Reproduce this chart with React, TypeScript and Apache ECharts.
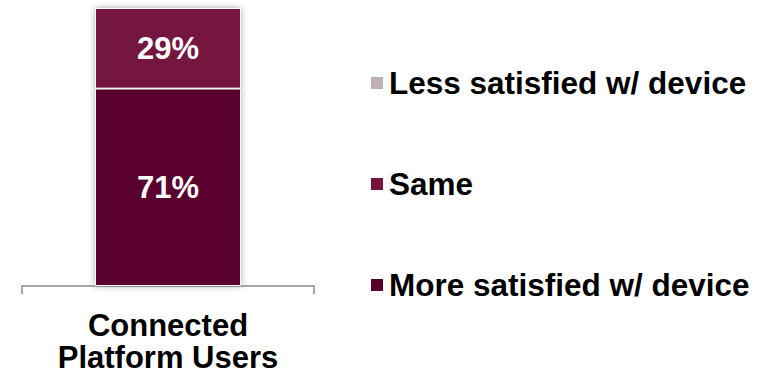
import React, { useEffect, useRef } from "react";
import * as echarts from "echarts";

const categories = ["Connected\nPlatform Users"];
const seriesNames = ["More satisfied w/ device", "Same", "Less satisfied w/ device"];
const moreValues = [71];
const sameValues = [29];
const lessValues = [0];
const colors = ["#5A002E", "#74123F", "#BDB0B5"];
const legendOrder = ["Less satisfied w/ device", "Same", "More satisfied w/ device"];

const FONT = "'Liberation Sans', Arial, sans-serif";

export default function App() {
  const ref = useRef<HTMLDivElement>(null);
  useEffect(() => {
    if (!ref.current) return;
    const chart = echarts.init(ref.current, undefined, { renderer: "svg" });
    const mk = (name: string, data: number[], color: string) => ({
      name,
      type: "bar",
      stack: "total",
      data,
      barWidth: "50%",
      itemStyle: {
        color,
        borderColor: "#ffffff",
        borderWidth: 1,
        shadowBlur: 6,
        shadowColor: "rgba(0,0,0,0.35)",
      },
      label: {
        show: true,
        position: "inside",
        color: "#ffffff",
        fontFamily: FONT,
        fontWeight: "bold",
        fontSize: 31,
        formatter: (p: any) => (p.value > 0 ? p.value + "%" : ""),
      },
    });
    chart.setOption({
      animation: false,
      grid: { left: 22, right: 451, top: 8, bottom: 89 },
      xAxis: {
        type: "category",
        data: categories,
        axisLine: { lineStyle: { color: "#A6A6A6", width: 2 } },
        axisTick: { show: true, length: 8, lineStyle: { color: "#A6A6A6", width: 2 } },
        axisLabel: {
          color: "#000000",
          fontFamily: FONT,
          fontWeight: "bold",
          fontSize: 31,
          lineHeight: 32,
          margin: 23,
        },
      },
      yAxis: { type: "value", min: 0, max: 100, show: false },
      legend: {
        orient: "vertical",
        left: 364,
        top: 62,
        itemWidth: 14,
        itemHeight: 14,
        itemGap: 69,
        icon: "rect",
        data: legendOrder,
        textStyle: {
          color: "#000000",
          fontFamily: FONT,
          fontWeight: "bold",
          fontSize: 31.5,
          padding: [0, 0, 0, 0],
        },
      },
      series: [
        mk(seriesNames[0], moreValues, colors[0]),
        mk(seriesNames[1], sameValues, colors[1]),
        mk(seriesNames[2], lessValues, colors[2]),
      ],
    });
    return () => chart.dispose();
  }, []);
  return <div ref={ref} style={{ width: 765, height: 375, position: "absolute", left: 0, top: 0 }} />;
}
